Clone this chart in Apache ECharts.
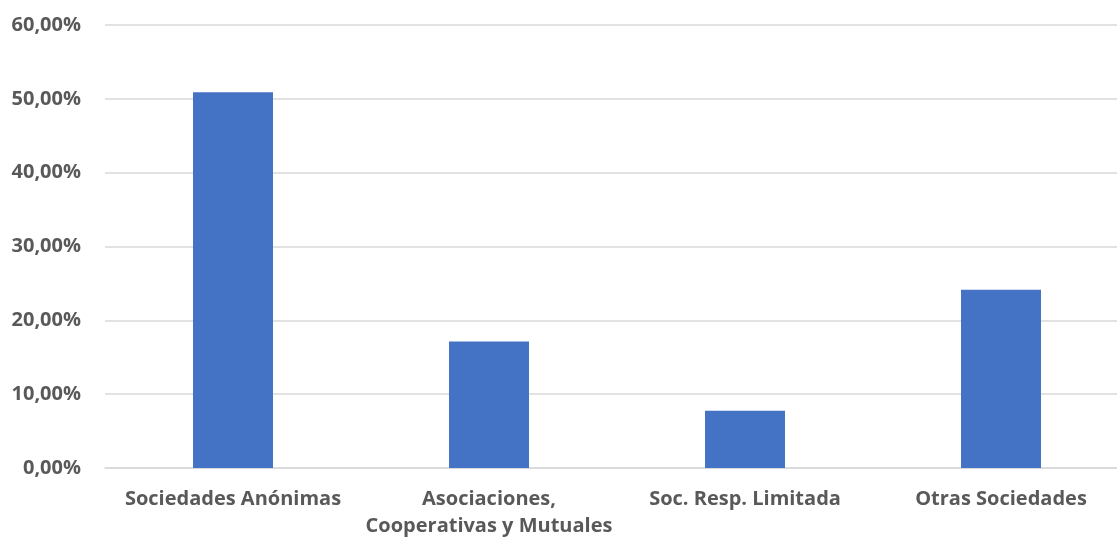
<!DOCTYPE html>
<html>
<head>
<meta charset="utf-8">
<script src="https://cdn.jsdelivr.net/npm/echarts@6/dist/echarts.min.js"></script>
<style>
  html, body { margin: 0; padding: 0; background: #fff; }
  #main { width: 1117px; height: 539px; }
</style>
</head>
<body>
<div id="main"></div>
<script>
var categories = ['Sociedades Anónimas', 'Asociaciones,\nCooperativas y Mutuales', 'Soc. Resp. Limitada', 'Otras Sociedades'];
var shares = [0.509, 0.1715, 0.0775, 0.2415];
var yTicks = [0, 0.1, 0.2, 0.3, 0.4, 0.5, 0.6];

var chart = echarts.init(document.getElementById('main'));
var labelFont = {
  color: '#595959',
  fontFamily: 'Open Sans',
  fontWeight: 'bold',
  fontSize: 20
};
chart.setOption({
  animation: false,
  backgroundColor: '#fff',
  grid: { left: 105, width: 1024, top: 25, height: 443, containLabel: false, outerBoundsMode: 'none' },
  xAxis: {
    type: 'category',
    data: categories,
    axisLine: { show: true, lineStyle: { color: '#d9d9d9', width: 1.5 } },
    axisTick: { show: false },
    axisLabel: Object.assign({ margin: 18, lineHeight: 27, interval: 0 }, labelFont)
  },
  yAxis: {
    type: 'value',
    min: yTicks[0],
    max: yTicks[yTicks.length - 1],
    interval: 0.1,
    axisLine: { show: false },
    axisTick: { show: false },
    splitLine: { lineStyle: { color: '#d9d9d9', width: 1.5 } },
    axisLabel: Object.assign({
      margin: 24,
      formatter: function (v) { return (v * 100).toFixed(2).replace('.', ',') + '%'; }
    }, labelFont)
  },
  series: [{
    type: 'bar',
    data: shares,
    barWidth: 80,
    itemStyle: { color: '#4472c4' }
  }]
});
</script>
</body>
</html>
